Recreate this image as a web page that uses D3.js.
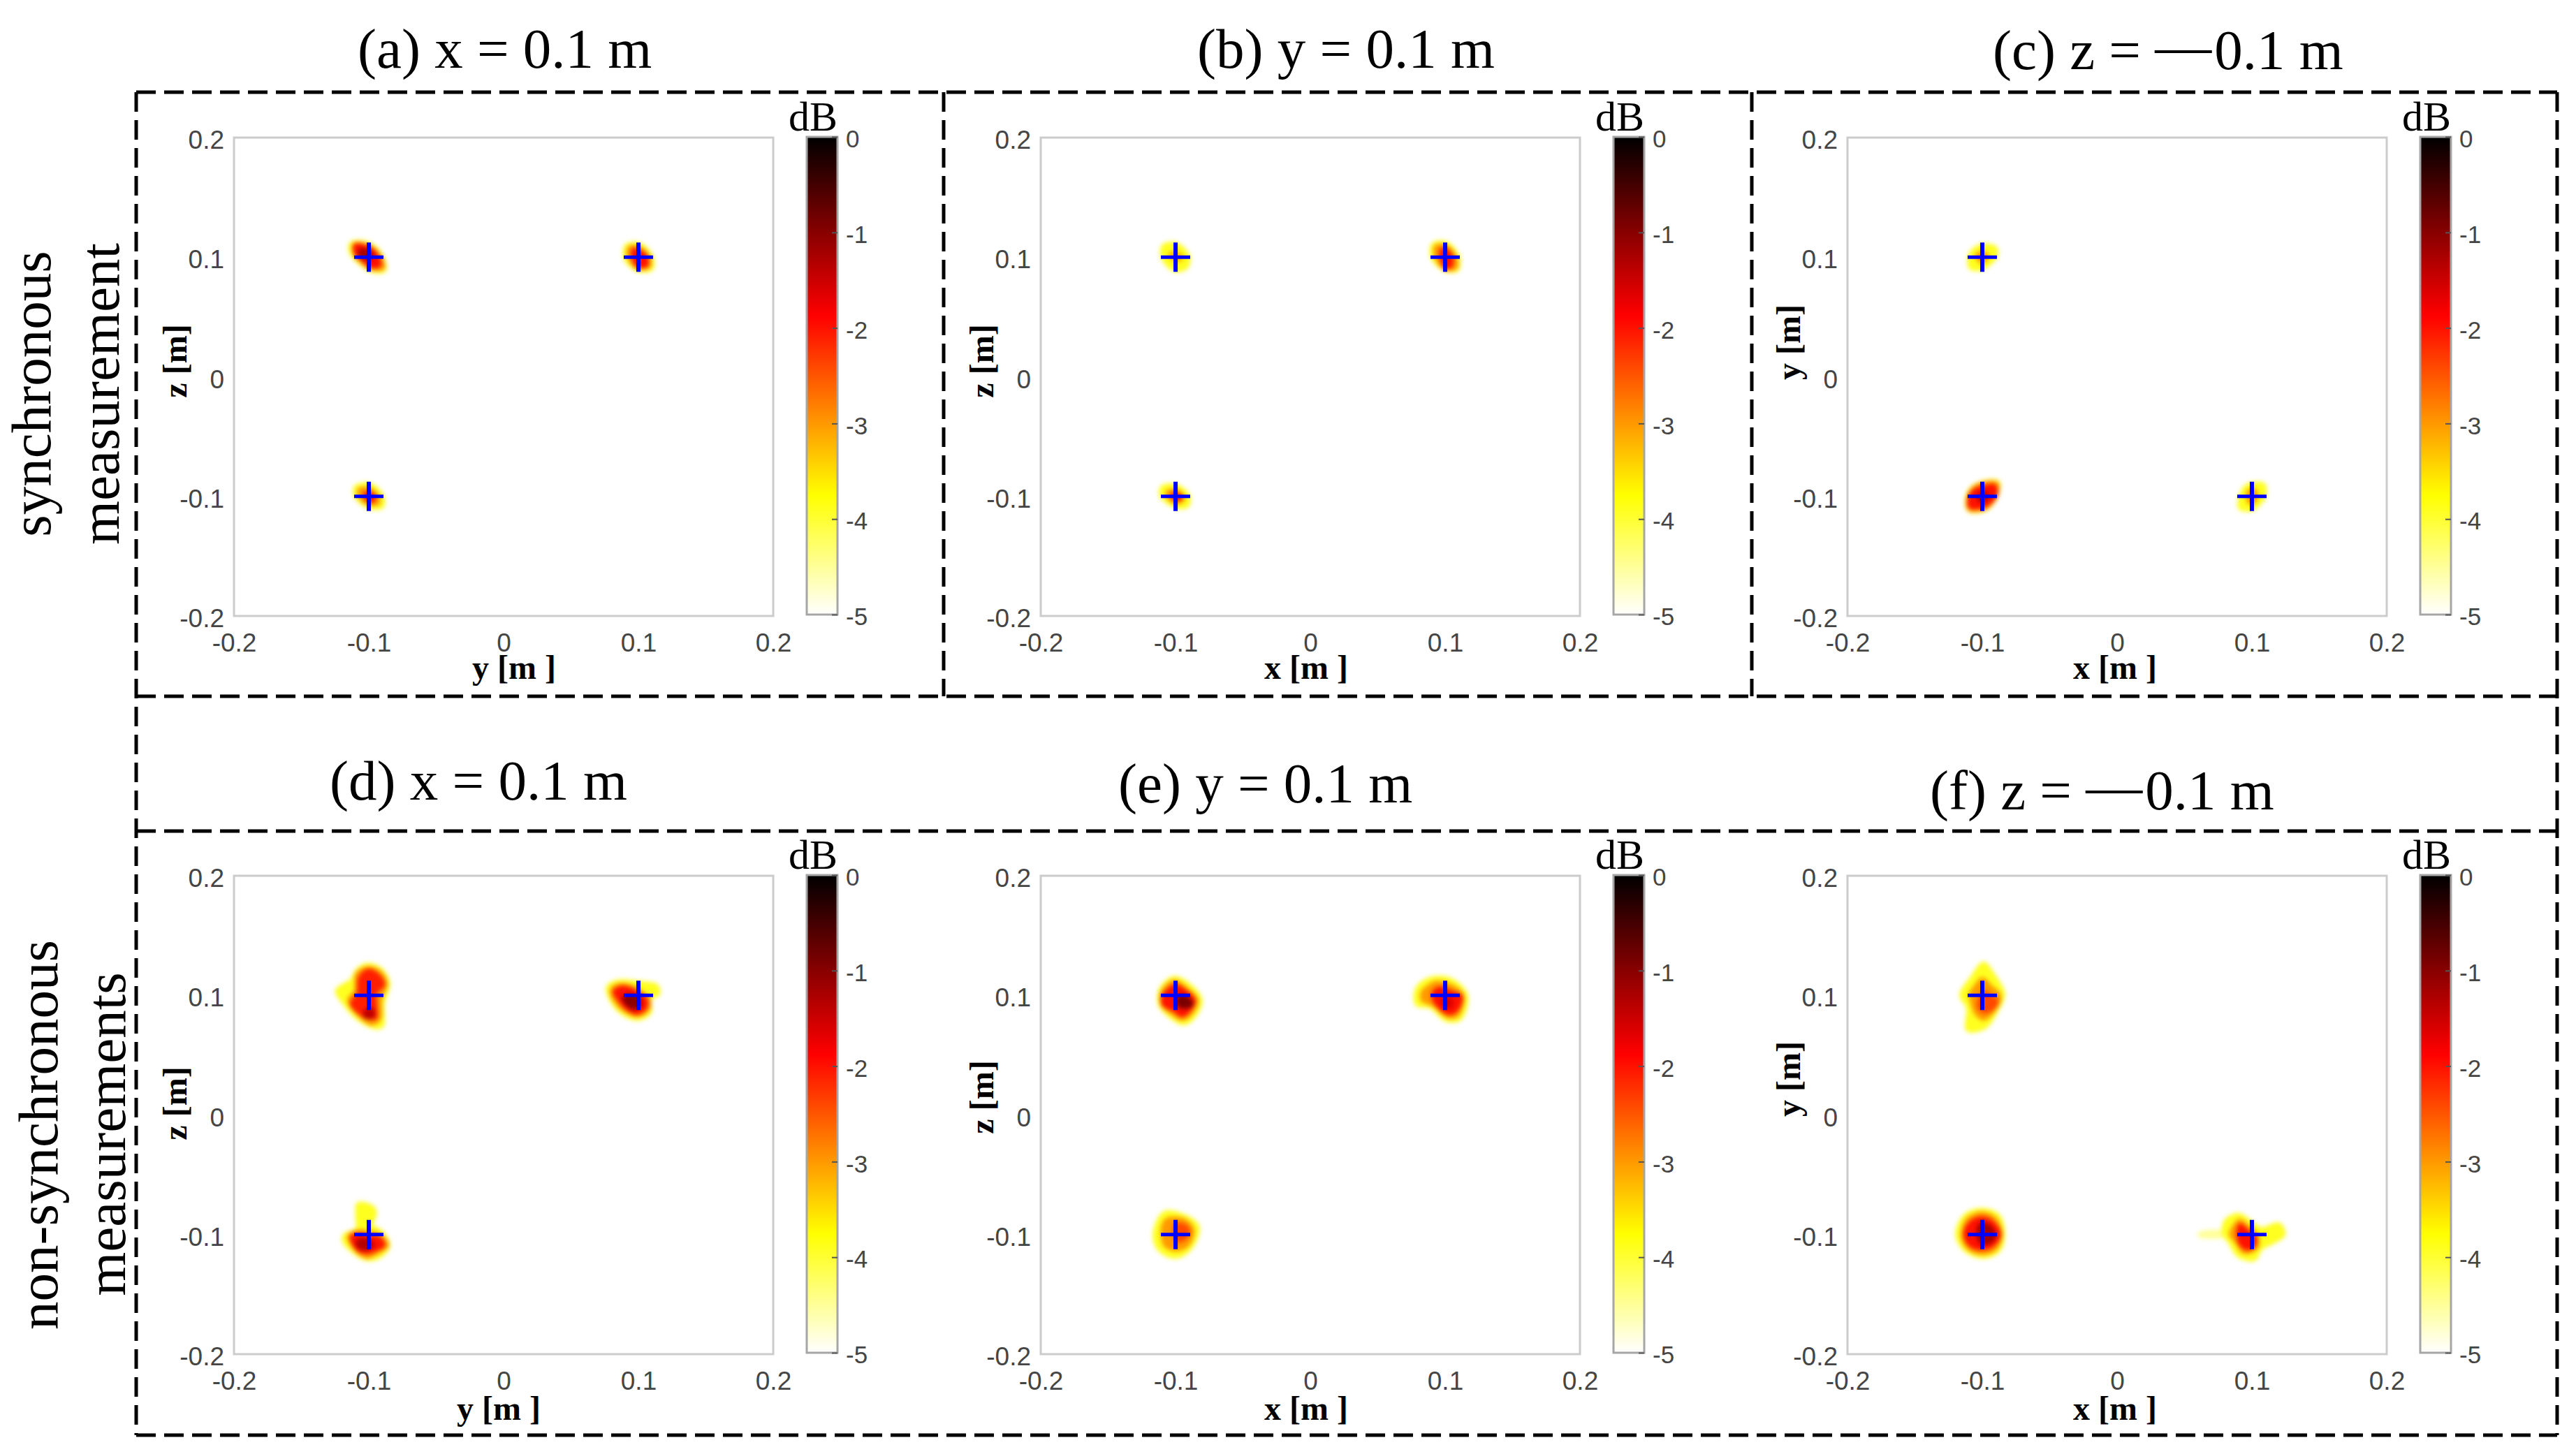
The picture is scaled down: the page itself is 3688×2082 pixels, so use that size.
<!DOCTYPE html>
<html>
<head>
  <meta charset="utf-8">
  <title>Source maps</title>
  <script src="https://d3js.org/d3.v7.min.js"></script>
  <style>
  html, body { margin: 0; background: #fff; }
  svg { display: block; }
  .tick text { font-family: "Liberation Sans", Arial, sans-serif; fill: #454545; }
  .serif { font-family: "Liberation Serif", "Times New Roman", serif; fill: #000; }
  </style>
</head>
<body>
  <div id="chart"></div>
  <script>
  // text
  var titles = ["(a) x = 0.1 m", "(b) y = 0.1 m", "(c) z = \u20140.1 m", "(d) x = 0.1 m", "(e) y = 0.1 m", "(f) z = \u20140.1 m"];
  var xNames = ["y [m ]", "x [m ]", "x [m ]", "y [m ]", "x [m ]", "x [m ]"];
  var yNames = ["z [m]", "z [m]", "y [m]", "z [m]", "z [m]", "y [m]"];
  var axisTicks = [-0.2, -0.1, 0, 0.1, 0.2];
  var dbTicks = [0, -1, -2, -3, -4, -5];

  // flipped hot colormap, dB -> colour
  var dbStops = [0, -1.875, -3.75, -5];
  var dbColors = ["#000000", "#ff0000", "#ffff00", "#ffffff"];

  // true source positions in metres (blue crosses), horizontal / vertical
  var sourcesXZ = [[-0.1, 0.1], [0.1, 0.1], [-0.1, -0.1]];
  var sourcesXY = [[-0.1, 0.1], [-0.1, -0.1], [0.1, -0.1]];

  // contours: one entry per source, [dB level, outline]
  // outlines are mm offsets from that source
  var blobsA = [
    [[-3.9, [[-13,12],[-1,12],[9,3],[12,-11],[3,-12],[-9,-3],[-14,5]]],
     [-3, [[-11,11],[-1,10],[8,2],[11,-9],[3,-10],[-7,-3],[-11,4]]],
     [-2, [[-10,10],[0,8],[7,0],[8,-7],[2,-8],[-5,-2],[-10,3]]],
     [-1.2, [[-6,6],[0,5],[3,0],[-3,-1],[-7,2]]]],
    [[-3.9, [[-9,10],[1,11],[10,1],[10,-10],[-1,-11],[-10,-1]]],
     [-3, [[-7,8],[1,8],[8,0],[8,-8],[-1,-9],[-7,-1]]],
     [-2, [[-4,6],[1,5],[6,0],[6,-7],[-1,-7],[-4,0]]]],
    [[-3.9, [[-10,8],[1,10],[10,1],[10,-9],[-1,-9],[-10,0]]],
     [-3, [[-7,6],[1,6],[7,0],[7,-6],[-1,-6],[-7,0]]],
     [-2, [[-3,2],[1,3],[4,-1],[3,-4],[-1,-3]]]]
  ];
  var blobsB = [
    [[-3.9, [[-9,10],[1,11],[10,0],[8,-9],[-1,-11],[-10,0]]],
     [-3.2, [[-4,3],[0,4],[5,0],[2,-3],[-2,-2]]]],
    [[-3.9, [[-9,11],[1,12],[10,0],[9,-11],[0,-11],[-10,0]]],
     [-3, [[-7,9],[1,9],[8,0],[8,-9],[0,-10],[-7,0]]],
     [-2, [[-3,6],[1,6],[5,-1],[4,-8],[0,-8],[-3,0]]]],
    [[-3.9, [[-10,8],[1,9],[10,0],[9,-8],[0,-9],[-11,1]]],
     [-3, [[-6,4],[0,5],[6,0],[5,-4],[-1,-5],[-6,0]]],
     [-2, [[-2,2],[1,2],[4,-1],[1,-3],[-2,-1]]]]
  ];
  var blobsC = [
    [[-3.9, [[-9,3],[-1,10],[10,8],[10,0],[-1,-10],[-9,-9]]],
     [-3, [[-4,2],[0,4],[4,1],[0,-4],[-3,-2]]]],
    [[-3.9, [[-12,-3],[-9,6],[0,12],[12,12],[11,1],[3,-11],[-10,-12]]],
     [-3, [[-11,-3],[-8,6],[0,11],[11,11],[11,1],[3,-10],[-10,-11]]],
     [-2, [[-10,-2],[-6,5],[1,8],[9,9],[10,1],[2,-8],[-9,-9]]],
     [-1.2, [[-3,-1],[0,3],[4,1],[0,-4]]]],
    [[-3.9, [[-4,9],[9,10],[9,-1],[0,-11],[-9,-10],[-9,-1]]],
     [-3, [[-2,5],[3,4],[3,-2],[-1,-6],[-3,-3]]]]
  ];
  var blobsD = [
    [[-3.9, [[-1,26],[9,22],[15,10],[11,-6],[10,-26],[4,-27],[-9,-19],[-19,-6],[-24,4],[-13,13],[-9,21]]],
     [-3, [[-1,23],[8,20],[13,10],[9,-3],[8,-20],[2,-24],[-8,-16],[-15,-4],[-10,4],[-9,18]]],
     [-2.1, [[-1,21],[6,18],[11,9],[5,2],[5,-8],[5,-19],[-4,-17],[-13,-7],[-8,1],[-7,14]]],
     [-1.4, [[-2,-12],[3,-12],[3,-18],[-3,-18]]]],
    [[-3.9, [[-23,7],[-15,12],[-1,11],[14,8],[15,1],[9,-3],[9,-14],[0,-20],[-11,-16],[-20,-5]]],
     [-3, [[-20,5],[-14,9],[-3,7],[2,3],[8,-3],[8,-11],[0,-17],[-10,-13],[-18,-4]]],
     [-2, [[-18,3],[-12,7],[-5,5],[2,0],[6,-4],[5,-11],[-1,-15],[-9,-11],[-15,-3]]],
     [-1, [[-11,-2],[-6,0],[0,-2],[1,-8],[-3,-11],[-9,-7]]]],
    [[-3.9, [[-8,26],[3,23],[5,17],[2,8],[9,3],[15,-9],[9,-18],[-1,-21],[-10,-16],[-19,-5],[-18,0],[-9,5],[-9,16]]],
     [-3, [[-15,-1],[-8,3],[0,2],[8,0],[14,-9],[7,-15],[-1,-19],[-9,-14]]],
     [-2, [[-13,-2],[-6,0],[2,-2],[8,-3],[11,-9],[5,-13],[-1,-15],[-8,-13]]],
     [-1.3, [[-8,-5],[0,-5],[3,-9],[-1,-12],[-8,-10]]]]
  ];
  var blobsE = [
    [[-3.9, [[-1,15],[9,10],[19,-4],[14,-18],[6,-24],[-4,-18],[-12,-8],[-11,6]]],
     [-3, [[-1,12],[8,6],[16,-4],[12,-15],[5,-20],[-3,-15],[-10,-8],[-10,3]]],
     [-2, [[0,8],[8,3],[14,-4],[10,-13],[5,-17],[-2,-12],[-9,-8],[-9,0]]],
     [-0.9, [[2,-1],[9,-2],[12,-8],[6,-10],[2,-8]]]],
    [[-3.9, [[-8,15],[5,13],[16,0],[11,-20],[1,-21],[-11,-10],[-21,-8],[-22,3],[-18,10]]],
     [-3, [[-7,11],[5,8],[13,0],[9,-17],[2,-18],[-9,-8],[-17,-4],[-17,3],[-12,8]]],
     [-2, [[-5,6],[4,3],[12,-1],[8,-13],[2,-15],[-7,-7],[-9,-2],[-9,2]]],
     [-1.6, [[-2,-4],[3,-2],[5,-8],[1,-10]]]],
    [[-3.9, [[-7,19],[10,14],[17,6],[11,-12],[0,-19],[-12,-13],[-16,-1],[-12,14]]],
     [-3, [[-6,13],[7,12],[13,4],[9,-9],[0,-13],[-8,-9],[-10,0],[-9,9]]],
     [-2.4, [[0,8],[6,8],[10,3],[6,-4],[1,-5]]]]
  ];
  var blobsF = [
    [[-3.9, [[1,27],[8,18],[16,1],[11,-13],[2,-27],[-11,-29],[-11,-10],[-16,0],[-8,15]]],
     [-3, [[0,14],[6,8],[13,0],[11,-9],[1,-20],[-5,-15],[-8,-5],[-9,1],[-5,8]]],
     [-2.4, [[1,3],[7,-2],[11,-4],[9,-10],[1,-14],[-3,-9],[-2,-3]]]],
    [[-3.9, [[0,21],[12,16],[16,0],[12,-14],[0,-19],[-13,-13],[-19,0],[-13,16]]],
     [-3, [[0,18],[10,13],[14,0],[10,-12],[0,-16],[-11,-11],[-15,0],[-11,13]]],
     [-2, [[0,14],[8,10],[13,0],[8,-9],[0,-12],[-9,-9],[-13,0],[-9,10]]],
     [-1.2, [[-1,9],[6,6],[9,-1],[6,-6],[-1,-7],[-3,-1],[-3,5]]]],
    [[-4.5, [[-21,-1],[-39,-1],[-39,1],[-21,2]]],
     [-3.9, [[-10,17],[0,10],[7,5],[20,9],[24,0],[17,-6],[7,-12],[2,-21],[-10,-18],[-17,-6],[-21,0],[-20,11]]],
     [-3, [[-9,12],[-2,6],[3,1],[5,-5],[3,-12],[-6,-15],[-12,-6],[-16,0],[-14,6]]],
     [-2, [[-9,8],[-3,3],[2,-2],[2,-8],[-2,-12],[-7,-10],[-10,-4]]]]
  ];
  var panelBlobs = [blobsA, blobsB, blobsC, blobsD, blobsE, blobsF];
  var panelSources = [sourcesXZ, sourcesXZ, sourcesXY, sourcesXZ, sourcesXZ, sourcesXY];

  // layout
  var width = 3688, height = 2082;
  var plotW = 772, plotH = 685;
  var plotLeft = [335, 1490, 2645], plotTop = [197, 1254];
  var titleX = [512, 1714, 2853, 472, 1601, 2763];
  var titleY = [97, 97, 99, 1145, 1149, 1159];
  var xNameX = [736, 1870, 3028, 714, 1870, 3028];
  var xNameY = [972, 972, 972, 2033, 2033, 2033];
  var yNameY = [517, 517, 490, 1580, 1571, 1545];
  var crossArm = 21;

  var svg = d3.select("#chart").append("svg").attr("width", width).attr("height", height);
  svg.append("rect").attr("width", width).attr("height", height).attr("fill", "#fff");

  var color = d3.scaleLinear().domain(dbStops).range(dbColors).clamp(true);

  var defs = svg.append("defs");
  defs.append("filter").attr("id", "soft")
    .attr("filterUnits", "userSpaceOnUse")
    .attr("x", 0).attr("y", 0).attr("width", width).attr("height", height)
    .attr("color-interpolation-filters", "sRGB")
    .append("feGaussianBlur").attr("stdDeviation", 3);

  var grad = defs.append("linearGradient").attr("id", "hot")
    .attr("x1", 0).attr("y1", 0).attr("x2", 0).attr("y2", 1);
  grad.selectAll("stop").data(dbStops).enter().append("stop")
    .attr("offset", function(d) { return -d / 5; })
    .attr("stop-color", function(d) { return color(d); });

  // dashed frame
  var frameLines = [
    [195, 132, 3661, 132], [195, 997, 3661, 997], [195, 1190, 3661, 1190], [195, 2055, 3661, 2055],
    [195, 132, 195, 2055], [1351, 132, 1351, 997], [2508, 132, 2508, 997], [3661, 132, 3661, 2055]
  ];
  svg.selectAll(".frame").data(frameLines).enter().append("line")
    .attr("class", "frame")
    .attr("x1", function(d) { return d[0]; }).attr("y1", function(d) { return d[1]; })
    .attr("x2", function(d) { return d[2]; }).attr("y2", function(d) { return d[3]; })
    .attr("stroke", "#000").attr("stroke-width", 5).attr("stroke-dasharray", "28 12");

  // row labels
  var rowLabels = [
    ["synchronous", 72, 564], ["measurement", 170, 564],
    ["non-synchronous", 82, 1625], ["measurements", 179, 1624]
  ];
  svg.selectAll(".row").data(rowLabels).enter().append("text")
    .attr("class", "row serif")
    .attr("transform", function(d) { return "translate(" + d[1] + "," + d[2] + ") rotate(-90)"; })
    .attr("text-anchor", "middle").attr("font-size", 81)
    .text(function(d) { return d[0]; });

  titles.forEach(function(title, i) {
    var col = i % 3, row = Math.floor(i / 3);
    var left = plotLeft[col], top = plotTop[row];

    var x = d3.scaleLinear().domain([-0.2, 0.2]).range([left, left + plotW]);
    var y = d3.scaleLinear().domain([-0.2, 0.2]).range([top + plotH, top]);
    var db = d3.scaleLinear().domain([-5, 0]).range([top + plotH - 2, top - 1]);

    // the long dash sits higher than an em dash does in this font
    var t = svg.append("text").attr("class", "serif")
      .attr("x", titleX[i]).attr("y", titleY[i]).attr("font-size", 81);
    var parts = title.split("\u2014");
    t.append("tspan").text(parts[0]);
    if (parts.length > 1) {
      t.append("tspan").attr("dy", -6).text("\u2014");
      t.append("tspan").attr("dy", 6).attr("dx", 4).text(parts[1]);
    }

    svg.append("rect").attr("x", left).attr("y", top).attr("width", plotW).attr("height", plotH)
      .attr("fill", "#fff").attr("stroke", "#cccccc").attr("stroke-width", 3);

    // maps: contours stacked low to high, softened into a gradient
    var maps = svg.append("g").attr("filter", "url(#soft)");
    panelBlobs[i].forEach(function(blob, s) {
      var src = panelSources[i][s];
      var line = d3.line()
        .x(function(p) { return x(src[0] + p[0] / 1000); })
        .y(function(p) { return y(src[1] + p[1] / 1000); })
        .curve(d3.curveCatmullRomClosed);
      maps.selectAll(null).data(blob).enter().append("path")
        .attr("d", function(c) { return line(c[1]); })
        .attr("fill", function(c) { return color(c[0]); })
        .attr("stroke", function(c) { return color(c[0]); })
        .attr("stroke-width", 4)
        .attr("stroke-linejoin", "round");
    });

    // crosses
    var crosses = svg.append("g").selectAll("g").data(panelSources[i]).enter().append("g")
      .attr("stroke", "#0000ff");
    crosses.append("line").attr("stroke-width", 5)
      .attr("x1", function(d) { return x(d[0]) - crossArm; }).attr("x2", function(d) { return x(d[0]) + crossArm; })
      .attr("y1", function(d) { return y(d[1]); }).attr("y2", function(d) { return y(d[1]); });
    crosses.append("line").attr("stroke-width", 6)
      .attr("x1", function(d) { return x(d[0]); }).attr("x2", function(d) { return x(d[0]); })
      .attr("y1", function(d) { return y(d[1]) - crossArm; }).attr("y2", function(d) { return y(d[1]) + crossArm; });

    // axes, labels only
    var xAxis = d3.axisBottom(x).tickValues(axisTicks).tickSize(0).tickPadding(25).tickFormat(String);
    var yAxis = d3.axisLeft(y).tickValues(axisTicks).tickSize(0).tickPadding(14).tickFormat(String);
    var gx = svg.append("g").attr("transform", "translate(0," + (top + plotH) + ")").call(xAxis);
    var gy = svg.append("g").attr("transform", "translate(" + left + ",0)").call(yAxis);
    [gx, gy].forEach(function(g) {
      g.select(".domain").remove();
      g.selectAll("text").attr("font-size", 37).attr("font-family", null);
    });
    gy.selectAll("text").attr("dy", "0.42em");

    svg.append("text").attr("class", "serif")
      .attr("x", xNameX[i]).attr("y", xNameY[i])
      .attr("text-anchor", "middle").attr("font-size", 48).attr("font-weight", "bold")
      .text(xNames[i]);
    svg.append("text").attr("class", "serif")
      .attr("transform", "translate(" + (left - 68) + "," + yNameY[i] + ") rotate(-90)")
      .attr("text-anchor", "middle").attr("font-size", 48).attr("font-weight", "bold")
      .text(yNames[i]);

    // colour bar
    var barX = left + 820, barW = 44;
    svg.append("rect").attr("x", barX).attr("y", db(0)).attr("width", barW).attr("height", db(-5) - db(0))
      .attr("fill", "url(#hot)").attr("stroke", "#a6a6a6").attr("stroke-width", 3);
    var barAxis = d3.axisRight(db).tickValues(dbTicks).tickSizeInner(-8).tickSizeOuter(0).tickPadding(12).tickFormat(String);
    var gb = svg.append("g").attr("transform", "translate(" + (barX + barW) + ",0)").call(barAxis);
    gb.select(".domain").remove();
    gb.selectAll("line").attr("stroke", "#555").attr("stroke-width", 2);
    gb.selectAll("text").attr("font-size", 35).attr("font-family", null).attr("dy", "0.42em");

    svg.append("text").attr("class", "serif")
      .attr("x", barX - 26).attr("y", top - 10).attr("font-size", 60).text("dB");
  });
  </script>
</body>
</html>
